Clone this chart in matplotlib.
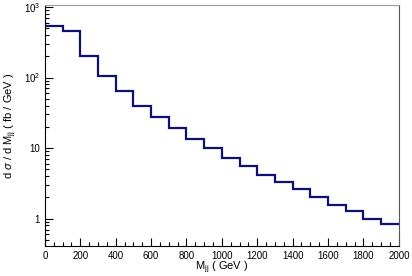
import numpy as np
import matplotlib
matplotlib.use("Agg")
import matplotlib.pyplot as plt
from matplotlib.ticker import FixedLocator, FuncFormatter, MultipleLocator

plt.rcParams['font.family'] = ['Liberation Sans', 'DejaVu Sans']
plt.rcParams['mathtext.fontset'] = 'custom'
plt.rcParams['mathtext.rm'] = 'Liberation Sans'
plt.rcParams['mathtext.it'] = 'Liberation Sans:italic'

# bin edges (GeV) and d sigma / d M_jj (fb / GeV)
edges = np.arange(0, 2001, 100)
xsec = [545, 455, 204, 105, 64, 40, 27.5, 19.2, 13.6, 10.1,
        7.3, 5.6, 4.15, 3.35, 2.6, 2.05, 1.55, 1.28, 0.99, 0.83]

fig = plt.figure(figsize=(4.12, 2.76), dpi=100)
ax = fig.add_axes([0.109, 0.109, 0.859, 0.872])

ax.stairs(xsec, edges, baseline=None, color='#101070', linewidth=1.6)

ax.set_yscale('log')
ax.set_xlim(0, 2000)
ax.set_ylim(0.41, 1060)

ax.xaxis.set_major_locator(MultipleLocator(200))
ax.xaxis.set_minor_locator(MultipleLocator(50))
ax.yaxis.set_major_locator(FixedLocator([1, 10, 100, 1000]))


def ylab(v, pos):
    if v < 50:
        return '%d' % v
    return r'$10^{%d}$' % round(np.log10(v))


ax.yaxis.set_major_formatter(FuncFormatter(ylab))
ax.tick_params(which='both', direction='in', top=False, right=False, labelsize=7)
ax.tick_params(which='major', length=6, width=0.8)
ax.tick_params(which='minor', length=3, width=0.8)

ax.spines['top'].set_color('#999999')
ax.spines['right'].set_color('#555555')

ax.set_xlabel(r'$\mathrm{M_{jj}}$ ( GeV )', fontsize=8, labelpad=-1)
ax.set_ylabel(r'd $\sigma$ / d $\mathrm{M_{jj}}$ ( fb / GeV )', fontsize=8, labelpad=3)

fig.savefig('out.png', dpi=100)
